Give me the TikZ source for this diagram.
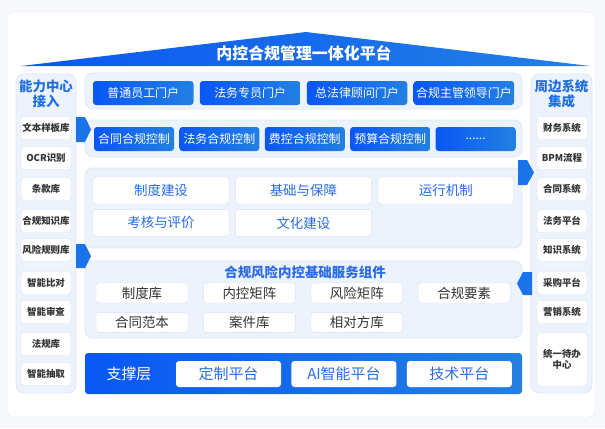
\documentclass[tikz,border=0pt]{standalone}
\usepackage{fontspec}
\setmainfont{Noto Sans CJK SC}
\usetikzlibrary{positioning,calc,shapes}

\definecolor{mainblue}{HTML}{0A57F4}
\definecolor{lightblue}{HTML}{2380E2}
\definecolor{panelfill}{HTML}{EDF3FD}
\definecolor{panelline}{HTML}{DCE7F8}
\definecolor{boxline}{HTML}{D3E1F6}
\definecolor{titleblue}{HTML}{1F6FE0}
\definecolor{textblue}{HTML}{2B6BE8}
\definecolor{textgray}{HTML}{333333}
\definecolor{pagebg}{HTML}{F6F8FC}
\definecolor{framebg}{HTML}{DCE6F5}
\definecolor{arrowblue}{HTML}{1A73E8}

\tikzset{
  panel/.style={draw=panelline, fill=panelfill, rounded corners=8bp, line width=0.8bp},
  itembox/.style={draw=boxline, fill=white, rounded corners=3bp, minimum width=50bp,
    minimum height=23bp, inner sep=0pt, text=textgray, font=\fontsize{9.5}{11}\selectfont\bfseries},
  bluebtn/.style={rounded corners=3bp, left color=mainblue, right color=lightblue, text=white,
    minimum height=24bp, inner sep=0pt, font=\fontsize{12}{13}\selectfont},
  mechbox/.style={draw=boxline, fill=white, rounded corners=3bp, minimum width=136bp,
    minimum height=27bp, inner sep=0pt, text=textblue, font=\fontsize{13.5}{15}\selectfont},
  compbox/.style={draw=boxline, fill=white, rounded corners=3bp, minimum width=92bp,
    minimum height=20bp, inner sep=0pt, text=textgray, font=\fontsize{13.5}{15}\selectfont},
  platbox/.style={fill=white, rounded corners=3bp, minimum width=105bp,
    minimum height=26bp, inner sep=0pt, text=textblue, font=\fontsize{15}{17}\selectfont},
  coltitle/.style={align=center, text=titleblue, font=\fontsize{13.5}{15}\selectfont\bfseries}
}

\begin{document}
\begin{tikzpicture}[x=1bp,y=-1bp]
    \useasboundingbox (0,0) rectangle (605,428);
    \fill[pagebg] (0,0) rectangle (605,428);
    \draw[framebg, fill=white, rounded corners=6bp] (7,12) rectangle (595,417);

    % roof
    \shade[left color=mainblue, right color=lightblue] (21,66) -- (306,32) -- (590,66) -- cycle;
    \node[text=white, font=\fontsize{16}{18}\selectfont\bfseries] (roof) at (304,53) {内控合规管理一体化平台};

    % side columns
    \draw[panel] (16,74) rectangle (76,393);
    \draw[panel] (531,74) rectangle (592,393);
    \node[coltitle] (captitle) at (46,93.5) {能力中心\\接入};
    \node[coltitle] (systitle) at (561.5,93.5) {周边系统\\集成};
    \foreach \y/\t [count=\i] in {128/文本样板库, 158/OCR识别, 189/条款库, 221/合规知识库,
        250/风险规则库, 283/智能比对, 312/智能审查, 344/法规库, 374/智能抽取}
      \node[itembox] (cap\i) at (46,\y) {\t};
    \foreach \y/\t [count=\i] in {128/财务系统, 158/BPM流程, 189/合同系统, 221/法务平台,
        250/知识系统, 283/采购平台, 312/营销系统}
      \node[itembox] (sys\i) at (562,\y) {\t};
    \node[itembox, minimum height=53bp, align=center] (sys8) at (562,359.5) {统一待办\\中心};

    % portals
    \draw[panel] (85,73) rectangle (522,109);
    \node[bluebtn, minimum width=100.5bp] (portal1) at (143.25,93) {普通员工门户};
    \node[bluebtn, minimum width=100.5bp, right=6bp of portal1] (portal2) {法务专员门户};
    \node[bluebtn, minimum width=100.5bp, right=6bp of portal2] (portal3) {总法律顾问门户};
    \node[bluebtn, minimum width=100.5bp, right=6bp of portal3] (portal4) {合规主管领导门户};

    % compliance controls
    \draw[panel] (85,120) rectangle (522,157);
    \node[bluebtn, minimum width=80bp] (ctrl1) at (134,139) {合同合规控制};
    \node[bluebtn, minimum width=80bp, right=5bp of ctrl1] (ctrl2) {法务合规控制};
    \node[bluebtn, minimum width=80bp, right=5bp of ctrl2] (ctrl3) {费控合规控制};
    \node[bluebtn, minimum width=80bp, right=5bp of ctrl3] (ctrl4) {预算合规控制};
    \node[bluebtn, minimum width=80bp, right=5bp of ctrl4] (ctrl5) {......};

    % mechanisms
    \draw[panel] (85,168) rectangle (522,248);
    \node[mechbox] (mech1) at (161,190.5) {制度建设};
    \node[mechbox, right=6bp of mech1] (mech2) {基础与保障};
    \node[mechbox, right=6bp of mech2] (mech3) {运行机制};
    \node[mechbox, below=5bp of mech1] (mech4) {考核与评价};
    \node[mechbox, right=6bp of mech4] (mech5) {文化建设};

    % basic service components
    \draw[panel] (85,261) rectangle (522,338);
    \node[text=textblue, font=\fontsize{13.5}{15}\selectfont\bfseries] (comptitle) at (305,272) {合规风险内控基础服务组件};
    \node[compbox] (comp1) at (142,293) {制度库};
    \node[compbox, right=15bp of comp1] (comp2) {内控矩阵};
    \node[compbox, right=15bp of comp2] (comp3) {风险矩阵};
    \node[compbox, right=15bp of comp3] (comp4) {合规要素};
    \node[compbox, below=9bp of comp1] (comp5) {合同范本};
    \node[compbox, right=15bp of comp5] (comp6) {案件库};
    \node[compbox, right=15bp of comp6] (comp7) {相对方库};

    % support layer
    \shade[left color=mainblue, right color=lightblue, rounded corners=3bp] (85,353) rectangle (522,394);
    \node[text=white, font=\fontsize{15}{17}\selectfont] (support) at (129,373.5) {支撑层};
    \node[platbox] (plat1) at (228.5,374) {定制平台};
    \node[platbox, right=10bp of plat1] (plat2) {AI智能平台};
    \node[platbox, right=10bp of plat2] (plat3) {技术平台};

    % side arrows
    \fill[arrowblue] (76,117) -- (85,117) -- (91,129.5) -- (85,142) -- (76,142) -- cycle;
    \fill[arrowblue] (76,244) -- (85,244) -- (91,256) -- (85,268) -- (76,268) -- cycle;
    \fill[arrowblue] (518,160) -- (527,160) -- (534,172.5) -- (527,185) -- (518,185) -- cycle;
    \fill[arrowblue] (532,272) -- (523,272) -- (517,283.5) -- (523,295) -- (532,295) -- cycle;
\end{tikzpicture}
\end{document}
